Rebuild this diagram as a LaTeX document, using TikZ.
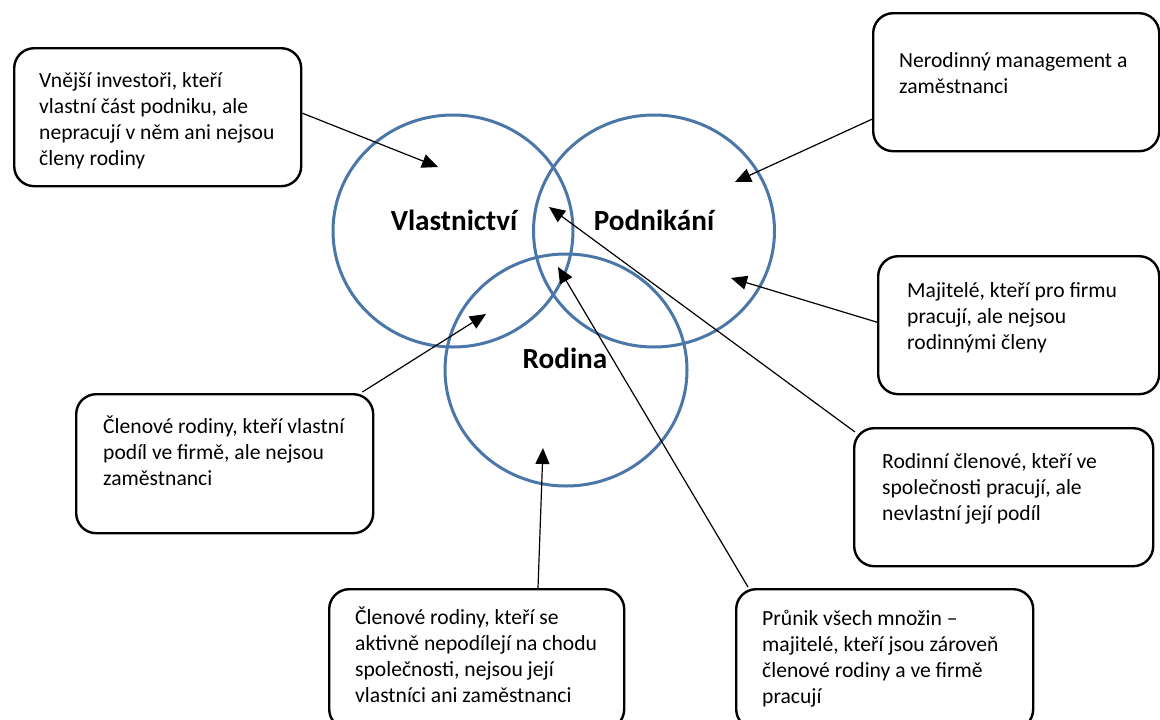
\documentclass[tikz,border=0pt]{standalone}
\usepackage{fontspec}
\setmainfont{Carlito}
\usetikzlibrary{arrows.meta,shapes.geometric}

\definecolor{ringblue}{RGB}{74,118,168}

\tikzset{
  ring/.style={draw=ringblue, line width=3pt, ellipse, inner sep=0pt},
  setlabel/.style={font={\fontsize{29.2}{34}\selectfont\bfseries}, anchor=base, inner sep=0pt},
  notebox/.style={draw=black, line width=2.4pt, rounded corners=20pt, anchor=north west, inner sep=0pt},
  notetext/.style={font={\fontsize{21.6}{26}\selectfont}, anchor=north west, align=left, inner sep=0pt},
  pointer/.style={draw=black, line width=1.2pt, -{Triangle[length=16pt,width=14pt]}}
}

\begin{document}
\begin{tikzpicture}[x=1pt,y=-1pt]
  \useasboundingbox (0,0) rectangle (1160,720);

  % the three overlapping sets
  \node[ring, minimum width=240pt, minimum height=232pt] (own) at (453,231) {};
  \node[ring, minimum width=241pt, minimum height=232pt] (biz) at (654,231) {};
  \node[ring, minimum width=242pt, minimum height=232pt] (fam) at (566,370) {};

  \node[setlabel] (ownlbl) at (454,230) {Vlastnictví};
  \node[setlabel] (bizlbl) at (654,230) {Podnikání};
  \node[setlabel] (famlbl) at (565,368) {Rodina};

  % explanatory boxes
  \node[notebox, minimum width=287pt, minimum height=138pt] (boxA) at (13,47) {};
  \node[notebox, minimum width=286pt, minimum height=138pt] (boxB) at (872,12) {};
  \node[notebox, minimum width=281pt, minimum height=138pt] (boxC) at (877,255) {};
  \node[notebox, minimum width=297pt, minimum height=139pt] (boxD) at (75,393) {};
  \node[notebox, minimum width=299pt, minimum height=138pt] (boxE) at (853,427) {};
  \node[notebox, minimum width=295pt, minimum height=140pt] (boxF) at (328,588) {};
  \node[notebox, minimum width=297pt, minimum height=140pt] (boxG) at (735,588) {};

  \node[notetext] (txtA) at (39,68.8) {\strut Vnější investoři, kteří\\vlastní část podniku, ale\\nepracují v něm ani nejsou\\členy rodiny};
  \node[notetext] (txtB) at (899,48.8) {\strut Nerodinný management a\\zaměstnanci};
  \node[notetext] (txtC) at (907,278.8) {\strut Majitelé, kteří pro firmu\\pracují, ale nejsou\\rodinnými členy};
  \node[notetext] (txtD) at (103,414.8) {\strut Členové rodiny, kteří vlastní\\podíl ve firmě, ale nejsou\\zaměstnanci};
  \node[notetext] (txtE) at (882,449.8) {\strut Rodinní členové, kteří ve\\společnosti pracují, ale\\nevlastní její podíl};
  \node[notetext] (txtF) at (355,605.8) {\strut Členové rodiny, kteří se\\aktivně nepodílejí na chodu\\společnosti, nejsou její\\vlastníci ani zaměstnanci};
  \node[notetext] (txtG) at (762,606.8) {\strut Průnik všech množin –\\majitelé, kteří jsou zároveň\\členové rodiny a ve firmě\\pracují};

  % arrow targets inside the sets
  \coordinate (tipA) at (438,167);
  \coordinate (tipB) at (735,182);
  \coordinate (tipC) at (731,278);
  \coordinate (tipD) at (486,314);
  \coordinate (tipE) at (549,207);
  \coordinate (tipF) at (543,448);
  \coordinate (tipG) at (558,267);

  % pointers from the boxes
  \draw[pointer] ([yshift=4pt]boxA.east) -- (tipA);
  \draw[pointer] ([yshift=-37pt]boxB.west) -- (tipB);
  \draw[pointer] ([yshift=3pt]boxC.west) -- (tipC);
  \draw[pointer] ([xshift=-12pt,yshift=1pt]boxD.north east) -- (tipD);
  \draw[pointer] ([xshift=2pt,yshift=-5pt]boxE.north west) -- (tipE);
  \draw[pointer] ([xshift=210pt]boxF.north west) -- (tipF);
  \draw[pointer] ([xshift=13pt,yshift=1pt]boxG.north west) -- (tipG);
\end{tikzpicture}
\end{document}
